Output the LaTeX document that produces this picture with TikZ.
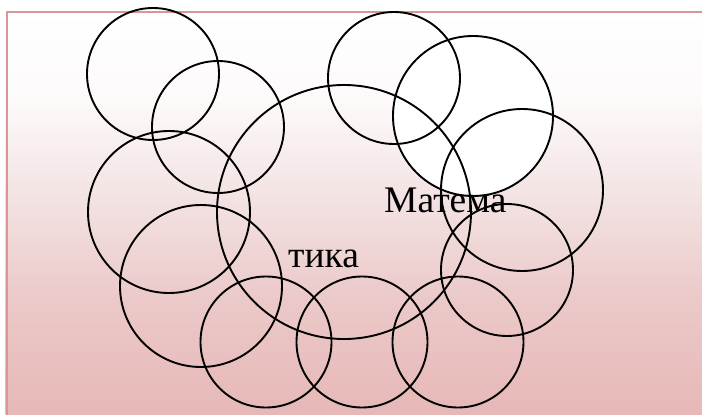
\documentclass[tikz,border=0pt]{standalone}
\usepackage{fontspec}
\setmainfont{Liberation Serif}
\definecolor{bgZ}{RGB}{229,181,180}
\definecolor{bgA}{RGB}{230,184,183}
\definecolor{bgB}{RGB}{235,201,200}
\definecolor{bgC}{RGB}{243,226,226}
\definecolor{bgD}{RGB}{253,250,250}
\definecolor{frame}{RGB}{217,150,148}
\pgfdeclareverticalshading{bgshade}{100bp}{color(0bp)=(bgZ); color(25bp)=(bgZ); color(26.2bp)=(bgA); color(40.1bp)=(bgB); color(52.2bp)=(bgC); color(64.3bp)=(bgD); color(75bp)=(white); color(100bp)=(white)}
\tikzset{
  ring/.style={circle, draw=black, line width=1.9pt, inner sep=0pt, minimum size=#1},
  lbl/.style={anchor=base west, inner sep=0pt, font=\fontsize{37.5}{40}\selectfont}
}
\begin{document}
\begin{tikzpicture}[x=1pt,y=-1pt]
\useasboundingbox (0,0) rectangle (702,415);
\begin{scope}
\clip (0,0) rectangle (702,415);
\shade[shading=bgshade] (5.5,10.5) rectangle (712,425);
\coordinate (fA) at (6.5,425);
\coordinate (fB) at (6.5,11.5);
\coordinate (fC) at (712,11.5);
\draw[frame, line width=2pt] (fA) -- (fB) -- (fC);
\end{scope}
% white filled circle first, outlines of the others on top
\node[ring=160pt, fill=white] (c5) at (473,116) {};
\node[ring=132pt] (c1) at (153,74) {};
\node[ring=132pt] (c2) at (218,127) {};
\node[ring=254pt] (c3) at (344,212) {};
\node[ring=132pt] (c4) at (394,78) {};
\node[ring=162pt] (c6) at (522,190) {};
\node[ring=162pt] (c7) at (169,212) {};
\node[ring=162pt] (c8) at (201,286) {};
\node[ring=131pt] (c9) at (266,342) {};
\node[ring=131pt] (c10) at (362,342) {};
\node[ring=131pt] (c11) at (458,342) {};
\node[ring=132pt] (c12) at (507,270) {};
\node[lbl] (t1) at (384,212) {Матема};
\node[lbl] (t2) at (288,267) {тика};
\end{tikzpicture}
\end{document}
